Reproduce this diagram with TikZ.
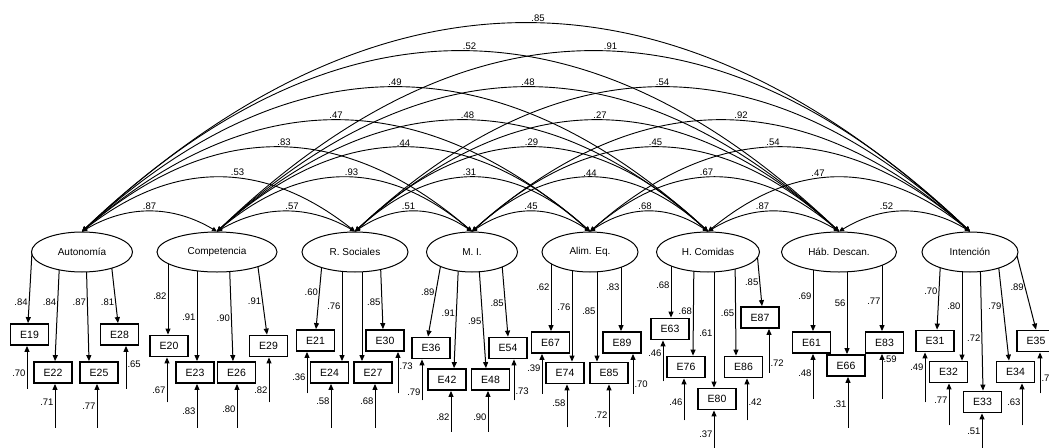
\documentclass[tikz,border=0pt]{standalone}
\usepackage{fontspec}
\setmainfont{Liberation Sans}
\usepackage{tikz}
\usetikzlibrary{shapes.geometric, arrows.meta, calc, backgrounds}

\begin{document}
\begin{tikzpicture}[x=1pt, y=-1pt,
    lat/.style={draw, ellipse, fill=white, minimum height=40pt, inner sep=0pt, line width=1pt,
                font=\fontsize{10}{12}\selectfont},
    ind/.style={draw, line width=1.8pt, minimum width=38pt, minimum height=21pt, inner sep=0pt,
                font=\fontsize{10.5}{12}\selectfont},
    coef/.style={font=\fontsize{9.5}{11}\selectfont, inner sep=1pt},
    load/.style={-{Triangle[length=6pt, width=5pt]}, line width=1pt},
    cov/.style={{Triangle[length=5pt, width=4.5pt]}-{Triangle[length=5pt, width=4.5pt]}, line width=0.9pt}]
  \useasboundingbox (0,0) rectangle (1049,447);

  % latent factors
  \foreach \n/\x/\w/\t in {aut/82/101/Autonomía, com/217/120/Competencia, rso/355/106/R. Sociales,
      mi/472/91/M. I., ali/590/96/Alim. Eq., hco/708/103/H. Comidas, hde/839/115/Háb. Descan.,
      inte/970/96/Intención}
    \node[lat, minimum width=\w pt] (\n) at (\x,252) {\t};

  % items
  \foreach \n/\x/\y in {19/29.5/334.5, 22/53/372.5, 25/99/372.5, 28/119.5/334.5,
      20/169/346, 23/195/372.5, 26/236.5/372.5, 29/268.5/346,
      21/315.5/340.5, 24/329.5/372.5, 27/373/372.5, 30/385/340.5,
      36/431/348, 42/447/379.5, 48/490.5/379.5, 54/508/348,
      67/550.5/342.5, 74/565/373, 85/609/373, 89/622/342.5,
      63/670/329, 76/686/367, 80/717/399, 86/743.5/367, 87/760/317.5,
      61/811.5/342.5, 66/846/365.5, 83/884.5/342.5,
      31/935/341, 32/948.5/372, 33/982.5/402, 34/1015.5/372, 35/1036/341}
    \node[ind] (e\n) at (\x,\y) {E\n};

  % loadings
  \begin{scope}[on background layer]
    \foreach \l/\n/\s/\e/\p/\v in {aut/19/-50/-1.5/.71/.84, aut/22/-22/2/.46/.84, aut/25/4/-10/.46/.87,
        aut/28/28/-1.5/.71/.81,
        com/20/-49/-1/.53/.82, com/23/-20/2/.60/.91, com/26/12/-3.5/.61/.90, com/29/39/-1.5/.60/.91,
        rso/21/-32/0.5/.52/.60, rso/24/-13/12.5/.50/.76, rso/30/25/-2/.65/.85,
        mi/36/-29/-3/.47/.89, mi/42/-13/7/.53/.91, mi/48/6/-4.5/.60/.95, mi/54/29/0/.60/.85,
        ali/67/-39/0.5/.45/.62, ali/74/-18/7/.50/.76, ali/85/7/-12/.54/.85, ali/89/31/-1/.45/.83,
        hco/63/-37/1/.51/.68, hco/76/-14/7/.57/.68, hco/80/6/-3/.60/.61, hco/86/27/-7.5/.59/.65,
        hco/87/49/2/.56/.85,
        hde/61/-26/1.5/.56/.69, hde/66/8/1/.50/56, hde/83/43/-2.5/.62/.77,
        inte/31/-29/2/.51/.70, inte/32/-8/13.5/.50/.80, inte/33/10/0.5/.62/.72,
        inte/34/27/-6.5/.50/.79, inte/35/46/0/.46/.89}
      \draw[load] ([xshift=\s pt]\l.center) -- ([xshift=\e pt]e\n.north) node[coef, pos=\p, left] {\v};
    \draw[load] ([xshift=7pt]rso.center) -- ([xshift=-11pt]e27.north);
  \end{scope}

  % residuals
  \foreach \n/\d/\len/\p/\v/\side in {19/-2.5/43/.37/.70/left, 22/2/44/.59/.71/left, 25/-2/44/.5/.77/left,
      28/6.5/43/.58/.65/right,
      20/-2/45/.27/.67/left, 23/2/44/.39/.83/left, 26/0.5/44/.43/.80/left, 29/0.5/45/.27/.82/left,
      21/-8.5/41.5/.39/.36/left, 24/1.5/44/.61/.58/left, 27/2/44/.61/.68/left, 30/13/41.5/.65/.73/right,
      36/-9/41/.2/.79/left, 42/4/41/.37/.82/left, 48/-2.5/41/.37/.90/left, 54/6/41/.22/.73/right,
      67/-8.5/40/.65/.39/left, 74/2/43/.56/.58/left, 85/0/43/.28/.72/left, 89/11/40/.25/.70/right,
      63/-7/41/.68/.46/left, 76/-2/42/.43/.46/left, 80/-3/41/.41/.37/left, 86/3.5/42/.43/.42/right,
      87/9/44/.23/.72/right,
      61/1.5/45/.56/.48/left, 66/2/51/.47/.31/left, 83/-2.5/45/.89/.59/right,
      31/-10/50/.7/.49/left, 32/0.5/42/.6/.77/left, 33/-0.5/37/.51/.51/left, 34/6.5/42/.55/.63/left,
      35/4/41/.37/.7/right}
    \draw[load] ([xshift=\d pt, yshift=-\len pt]e\n.south) -- ([xshift=\d pt]e\n.south)
      node[coef, pos=\p, \side] {\v};

  % correlations between factors
  \foreach \a/\b/\h/\v/\s in {aut/com/20/.87/0, com/rso/20/.57/6, rso/mi/20/.51/-5, mi/ali/20/.45/0,
      ali/hco/20/.68/-4, hco/hde/20/.87/-11, hde/inte/20/.52/-18,
      aut/rso/54/.53/19, com/mi/54/.93/7, rso/ali/54/.31/-3, mi/hco/54/.44/0, ali/hde/54/.67/-8,
      hco/inte/54/.47/-21,
      aut/mi/84/.83/7, com/ali/84/.44/0, rso/hco/84/.29/0, mi/hde/84/.45/0, ali/inte/84/.54/-7,
      aut/ali/111/.47/0, com/hco/111/.48/5, rso/hde/111/.27/3, mi/inte/111/.92/20,
      aut/hco/144/.49/0, com/hde/144/.48/0, rso/inte/144/.54/0,
      aut/hde/180/.52/9, com/inte/180/.91/17,
      aut/inte/208/.85/12}{
    \coordinate (k) at ($(\a.north)!.5!(\b.north)+(0,-2*\h)$);
    \draw[cov] (\a.north) .. controls ($(\a.north)!.667!(k)$) and ($(\b.north)!.667!(k)$) .. (\b.north)
      node[coef, pos=.5, above, xshift=\s pt] {\v};
  }
\end{tikzpicture}
\end{document}
